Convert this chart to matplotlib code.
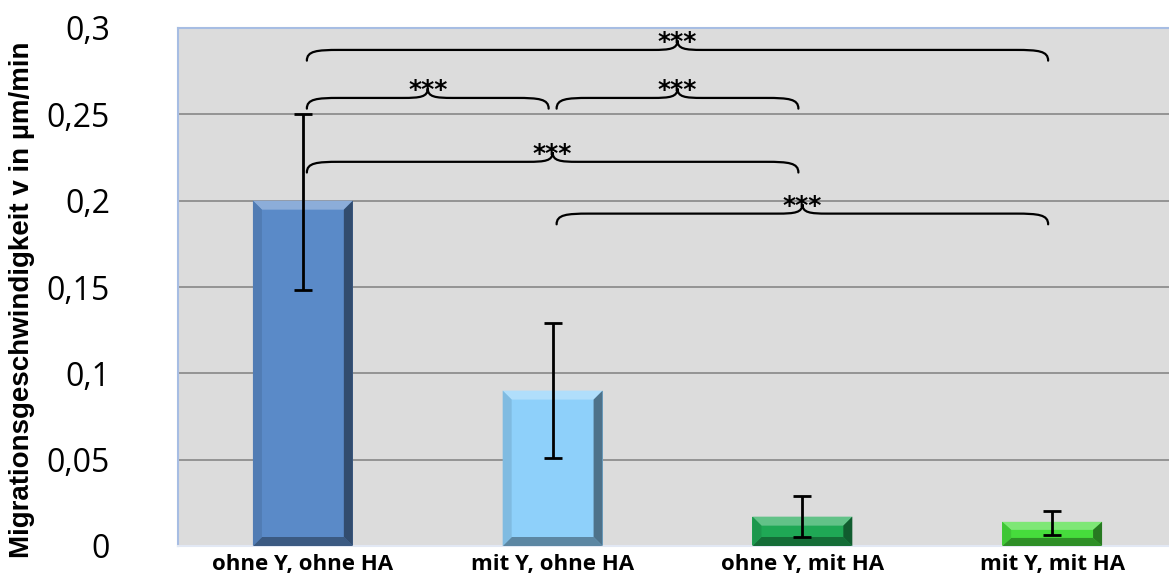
import numpy as np
import matplotlib
matplotlib.use("Agg")
import matplotlib.pyplot as plt
from matplotlib.path import Path
from matplotlib.patches import PathPatch, Polygon

# data
categories = ["ohne Y, ohne HA", "mit Y, ohne HA", "ohne Y, mit HA", "mit Y, mit HA"]
means = [0.200, 0.090, 0.017, 0.014]
err_low = [0.052, 0.039, 0.012, 0.0076]
err_high = [0.050, 0.039, 0.012, 0.0065]
face_colors = ["#5a8ac8", "#8ed0fa", "#1fa855", "#46dc3c"]

# significance brackets: (from bar, to bar, height of brace line)
brace_from = [0, 0, 1, 0, 1]
brace_to = [3, 1, 2, 2, 3]
brace_level = [0.2873, 0.2595, 0.2595, 0.2225, 0.1925]
brace_label = ["***", "***", "***", "***", "***"]

ylabel = "Migrationsgeschwindigkeit v in µm/min"
yticks = [0, 0.05, 0.1, 0.15, 0.2, 0.25, 0.3]
ytick_labels = ["0", "0,05", "0,1", "0,15", "0,2", "0,25", "0,3"]

W, H = 1169, 580
fig = plt.figure(figsize=(W / 100, H / 100), dpi=100)
ax = fig.add_axes([178 / W, 1 - 546 / H, (1177 - 178) / W, (546 - 28) / H])
ax.set_facecolor("#dcdcdc")
ax.set_xlim(-0.5, 3.5)
ax.set_ylim(0, 0.3)

for y in yticks[1:-1]:
    ax.axhline(y, color="#8e8e8e", lw=1.3, zorder=1)


def shade(c, f):
    c = np.array(matplotlib.colors.to_rgb(c))
    if f > 0:
        return tuple(c + (1 - c) * f)
    return tuple(c * (1 + f))


bar_w = 0.4
x = np.arange(len(categories))
bars = ax.bar(x, means, width=bar_w, color=face_colors, zorder=2, linewidth=0)

# bevel edges (approximate Excel's bevel effect)
bx = 9 / 250
by = 9 / (518 / 0.3)
for b, c in zip(bars, face_colors):
    x0, x1 = b.get_x(), b.get_x() + b.get_width()
    y0, y1 = 0, b.get_height()
    h = min(by, (y1 - y0) / 3)
    ix0, ix1, iy0, iy1 = x0 + bx, x1 - bx, y0 + h, y1 - h
    parts = [
        ([(x0, y1), (x1, y1), (ix1, iy1), (ix0, iy1)], shade(c, 0.3)),
        ([(x0, y0), (x1, y0), (ix1, iy0), (ix0, iy0)], shade(c, -0.35)),
        ([(x1, y0), (x1, y1), (ix1, iy1), (ix1, iy0)], shade(c, -0.45)),
        ([(x0, y0), (x0, y1), (ix0, iy1), (ix0, iy0)], shade(c, -0.1)),
    ]
    for pts, col in parts:
        ax.add_patch(Polygon(pts, closed=True, facecolor=col, edgecolor="none", zorder=3))

ax.errorbar(x, means, yerr=[err_low, err_high], fmt="none", ecolor="black",
            elinewidth=2, capsize=6.5, capthick=2, zorder=4)


def brace(ax, xa, xb, y, label):
    d = 0.0062   # how far the ends drop
    t = 0.0055   # how far the middle tip rises
    r = 0.13     # end curl length
    r2 = 0.10    # middle curl length
    xm = (xa + xb) / 2
    verts = [
        (xa, y - d), (xa, y - d * 0.1), (xa + r * 0.3, y), (xa + r, y),
        (xm - r2, y),
        (xm - r2 * 0.3, y), (xm, y + t * 0.1), (xm, y + t),
        (xm, y + t * 0.1), (xm + r2 * 0.3, y), (xm + r2, y),
        (xb - r, y),
        (xb - r * 0.3, y), (xb, y - d * 0.1), (xb, y - d),
    ]
    codes = [Path.MOVETO, Path.CURVE4, Path.CURVE4, Path.CURVE4, Path.LINETO,
             Path.CURVE4, Path.CURVE4, Path.CURVE4,
             Path.CURVE4, Path.CURVE4, Path.CURVE4, Path.LINETO,
             Path.CURVE4, Path.CURVE4, Path.CURVE4]
    ax.add_patch(PathPatch(Path(verts, codes), facecolor="none", edgecolor="black",
                           lw=1.6, zorder=5, capstyle="round"))
    ax.text(xm, y + t - 0.008, label, ha="center", va="bottom", fontsize=18,
            fontweight="bold", family="DejaVu Sans", zorder=6)


gap = 0.016
for a, b, lvl, lab in zip(brace_from, brace_to, brace_level, brace_label):
    brace(ax, a + gap, b - gap, lvl, lab)

for s in ax.spines.values():
    s.set_color("#a7bde3")
    s.set_linewidth(1.5)
ax.spines["bottom"].set_color("#e2e8f4")

ax.set_yticks(yticks)
ax.set_yticklabels(ytick_labels, family="Open Sans", fontsize=23)
ax.tick_params(axis="y", length=0, pad=49)
ax.set_xticks(x)
ax.set_xticklabels(categories, family="Open Sans", fontweight="bold", fontsize=16)
ax.tick_params(axis="x", length=0, pad=6)

fig.text(22 / W, 1 - 300 / H, ylabel, rotation=90, ha="center", va="center",
         family="Liberation Sans", fontweight="bold", fontsize=20)

fig.savefig("out.png", dpi=100)
